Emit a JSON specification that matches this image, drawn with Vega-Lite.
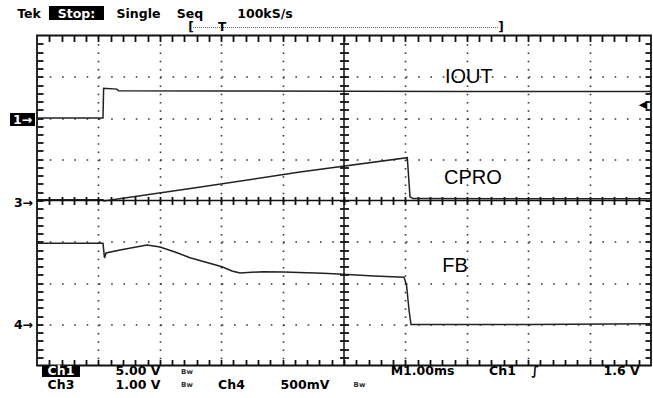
{
  "$schema": "https://vega.github.io/schema/vega-lite/v6.json",
  "width": 614,
  "height": 330,
  "autosize": {"type": "none"},
  "padding": {"left": 37, "top": 35.5, "right": 2, "bottom": 32.5},
  "background": "white",
  "config": {"view": {"stroke": "#111", "strokeWidth": 1.8}},
  "datasets": {
    "traces": [
      {"ch": "IOUT", "x": 0, "y": 6.0},
      {"ch": "IOUT", "x": 1.075, "y": 6.0},
      {"ch": "IOUT", "x": 1.085, "y": 6.72},
      {"ch": "IOUT", "x": 1.3, "y": 6.7},
      {"ch": "IOUT", "x": 1.33, "y": 6.66},
      {"ch": "IOUT", "x": 3, "y": 6.655},
      {"ch": "IOUT", "x": 5, "y": 6.65},
      {"ch": "IOUT", "x": 7, "y": 6.645},
      {"ch": "IOUT", "x": 10, "y": 6.64},
      {"ch": "CPRO", "x": 0, "y": 4.02},
      {"ch": "CPRO", "x": 1.075, "y": 4.02},
      {"ch": "CPRO", "x": 1.09, "y": 3.99},
      {"ch": "CPRO", "x": 2.5, "y": 4.29},
      {"ch": "CPRO", "x": 4.283, "y": 4.69},
      {"ch": "CPRO", "x": 6.031, "y": 5.038},
      {"ch": "CPRO", "x": 6.075, "y": 4.092},
      {"ch": "CPRO", "x": 6.124, "y": 4.048},
      {"ch": "CPRO", "x": 8, "y": 4.04},
      {"ch": "CPRO", "x": 10, "y": 4.04},
      {"ch": "FB", "x": 0, "y": 2.962},
      {"ch": "FB", "x": 1.075, "y": 2.962},
      {"ch": "FB", "x": 1.099, "y": 2.606},
      {"ch": "FB", "x": 1.124, "y": 2.727},
      {"ch": "FB", "x": 1.352, "y": 2.8},
      {"ch": "FB", "x": 1.792, "y": 2.921},
      {"ch": "FB", "x": 2.003, "y": 2.873},
      {"ch": "FB", "x": 2.248, "y": 2.752},
      {"ch": "FB", "x": 2.492, "y": 2.613},
      {"ch": "FB", "x": 3.013, "y": 2.395},
      {"ch": "FB", "x": 3.176, "y": 2.291},
      {"ch": "FB", "x": 3.306, "y": 2.242},
      {"ch": "FB", "x": 3.681, "y": 2.274},
      {"ch": "FB", "x": 4.007, "y": 2.267},
      {"ch": "FB", "x": 4.658, "y": 2.235},
      {"ch": "FB", "x": 4.984, "y": 2.211},
      {"ch": "FB", "x": 5.489, "y": 2.17},
      {"ch": "FB", "x": 5.977, "y": 2.138},
      {"ch": "FB", "x": 6.018, "y": 1.952},
      {"ch": "FB", "x": 6.059, "y": 1.345},
      {"ch": "FB", "x": 6.091, "y": 0.994},
      {"ch": "FB", "x": 6.238, "y": 0.994},
      {"ch": "FB", "x": 8, "y": 0.995},
      {"ch": "FB", "x": 10, "y": 1.01}
    ],
    "labels": [
      {"t": "IOUT", "x": 6.645, "y": 6.99, "g": "sig"},
      {"t": "CPRO", "x": 6.63, "y": 4.545, "g": "sig"},
      {"t": "FB", "x": 6.6, "y": 2.41, "g": "sig"},
      {"t": "Tek", "x": -0.13, "y": 8.424, "g": "stat"},
      {"t": "Stop:", "x": 0.643, "y": 8.424, "g": "inv"},
      {"t": "Single", "x": 1.653, "y": 8.424, "g": "stat"},
      {"t": "Seq", "x": 2.492, "y": 8.424, "g": "stat"},
      {"t": "100kS/s", "x": 3.713, "y": 8.424, "g": "stat"},
      {"t": "Ch1", "x": 0.391, "y": -0.242, "g": "inv"},
      {"t": "5.00 V", "x": 1.645, "y": -0.242, "g": "stat"},
      {"t": "M1.00ms", "x": 6.279, "y": -0.242, "g": "stat"},
      {"t": "Ch1", "x": 7.581, "y": -0.242, "g": "stat"},
      {"t": "∫", "x": 8.111, "y": -0.242, "g": "stat"},
      {"t": "1.6 V", "x": 9.52, "y": -0.242, "g": "stat"},
      {"t": "Ch3", "x": 0.391, "y": -0.57, "g": "stat"},
      {"t": "1.00 V", "x": 1.645, "y": -0.57, "g": "stat"},
      {"t": "Ch4", "x": 3.168, "y": -0.57, "g": "stat"},
      {"t": "500mV", "x": 4.365, "y": -0.57, "g": "stat"},
      {"t": "Bw", "x": 2.443, "y": -0.158, "g": "bw"},
      {"t": "Bw", "x": 2.443, "y": -0.473, "g": "bw"},
      {"t": "Bw", "x": 5.252, "y": -0.473, "g": "bw"},
      {"t": "1→", "x": -0.236, "y": 5.865, "g": "inv"},
      {"t": "3→", "x": -0.22, "y": 3.852, "g": "stat"},
      {"t": "4→", "x": -0.22, "y": 0.895, "g": "stat"},
      {"t": "[", "x": 2.508, "y": 8.194, "g": "bar"},
      {"t": "T", "x": 3.013, "y": 8.194, "g": "bar"},
      {"t": "]", "x": 7.557, "y": 8.194, "g": "bar"},
      {"t": "◀", "x": 9.87, "y": 6.315, "g": "trig"}
    ],
    "boxes": [
      {"x": 0.195, "x2": 1.091, "y": 8.376, "y2": 8.715},
      {"x": 0.081, "x2": 0.7, "y": -0.01, "y2": -0.28},
      {"x": -0.44, "x2": -0.033, "y": 5.806, "y2": 6.121}
    ],
    "bar": [
      {"x": 2.541, "x2": 7.524, "y": 8.194}
    ],
    "cross": [
      {"x": 5, "y": 0, "x2": 5, "y2": 8},
      {"x": 0, "y": 4, "x2": 10, "y2": 4}
    ]
  },
  "layer": [
    {
      "data": {"name": "traces"},
      "mark": {"type": "line", "strokeWidth": 1.5, "color": "#222"},
      "encoding": {
        "x": {
          "field": "x", "type": "quantitative",
          "scale": {"domain": [0, 10], "nice": false, "zero": false},
          "axis": {
            "orient": "bottom", "title": null, "labels": false, "ticks": false, "domain": false,
            "values": [1, 2, 3, 4, 6, 7, 8, 9],
            "grid": true, "gridColor": "#333", "gridWidth": 1.6, "gridDash": [1.6, 6.65]
          }
        },
        "y": {
          "field": "y", "type": "quantitative",
          "scale": {"domain": [0, 8], "nice": false, "zero": false},
          "axis": {
            "orient": "left", "title": null, "labels": false, "ticks": false, "domain": false,
            "values": [1, 2, 3, 5, 6, 7],
            "grid": true, "gridColor": "#333", "gridWidth": 1.6, "gridDash": [1.6, 10.68]
          }
        },
        "detail": {"field": "ch", "type": "nominal"}
      }
    },
    {
      "data": {"name": "boxes"},
      "mark": {"type": "rect", "color": "#000"},
      "encoding": {
        "x": {
          "field": "x", "type": "quantitative",
          "scale": {"domain": [0, 10], "nice": false, "zero": false},
          "axis": {
            "orient": "bottom", "offset": -6, "title": null, "labels": false, "grid": false, "domain": false,
            "values": [0.2,0.4,0.6,0.8,1,1.2,1.4,1.6,1.8,2,2.2,2.4,2.6,2.8,3,3.2,3.4,3.6,3.8,4,4.2,4.4,4.6,4.8,5,5.2,5.4,5.6,5.8,6,6.2,6.4,6.6,6.8,7,7.2,7.4,7.6,7.8,8,8.2,8.4,8.6,8.8,9,9.2,9.4,9.6,9.8],
            "tickSize": 6, "tickColor": "#111", "tickWidth": 1.8
          }
        },
        "x2": {"field": "x2"},
        "y": {
          "field": "y", "type": "quantitative",
          "scale": {"domain": [0, 8], "nice": false, "zero": false},
          "axis": {
            "orient": "left", "offset": -6, "title": null, "labels": false, "grid": false, "domain": false,
            "values": [0.2,0.4,0.6,0.8,1,1.2,1.4,1.6,1.8,2,2.2,2.4,2.6,2.8,3,3.2,3.4,3.6,3.8,4,4.2,4.4,4.6,4.8,5,5.2,5.4,5.6,5.8,6,6.2,6.4,6.6,6.8,7,7.2,7.4,7.6,7.8],
            "tickSize": 6, "tickColor": "#111", "tickWidth": 1.8
          }
        },
        "y2": {"field": "y2"}
      }
    },
    {
      "data": {"name": "cross"},
      "mark": {"type": "rule", "color": "#111", "strokeWidth": 1.5},
      "encoding": {
        "x": {
          "field": "x", "type": "quantitative",
          "scale": {"domain": [0, 10], "nice": false, "zero": false},
          "axis": {
            "orient": "bottom", "offset": -169, "title": null, "labels": false, "grid": false, "domain": false,
            "values": [0.2,0.4,0.6,0.8,1,1.2,1.4,1.6,1.8,2,2.2,2.4,2.6,2.8,3,3.2,3.4,3.6,3.8,4,4.2,4.4,4.6,4.8,5,5.2,5.4,5.6,5.8,6,6.2,6.4,6.6,6.8,7,7.2,7.4,7.6,7.8,8,8.2,8.4,8.6,8.8,9,9.2,9.4,9.6,9.8],
            "tickSize": 8, "tickColor": "#111", "tickWidth": 1.8
          }
        },
        "x2": {"field": "x2"},
        "y": {
          "field": "y", "type": "quantitative",
          "scale": {"domain": [0, 8], "nice": false, "zero": false},
          "axis": {
            "orient": "left", "offset": -311.5, "title": null, "labels": false, "grid": false, "domain": false,
            "values": [0.2,0.4,0.6,0.8,1,1.2,1.4,1.6,1.8,2,2.2,2.4,2.6,2.8,3,3.2,3.4,3.6,3.8,4,4.2,4.4,4.6,4.8,5,5.2,5.4,5.6,5.8,6,6.2,6.4,6.6,6.8,7,7.2,7.4,7.6,7.8],
            "tickSize": 9, "tickColor": "#111", "tickWidth": 1.8
          }
        },
        "y2": {"field": "y2"}
      }
    },
    {
      "encoding": {
        "x": {
          "field": "x", "type": "quantitative",
          "scale": {"domain": [0, 10], "nice": false, "zero": false},
          "axis": {
            "orient": "top", "offset": -6, "title": null, "labels": false, "grid": false, "domain": false,
            "values": [0.2,0.4,0.6,0.8,1,1.2,1.4,1.6,1.8,2,2.2,2.4,2.6,2.8,3,3.2,3.4,3.6,3.8,4,4.2,4.4,4.6,4.8,5,5.2,5.4,5.6,5.8,6,6.2,6.4,6.6,6.8,7,7.2,7.4,7.6,7.8,8,8.2,8.4,8.6,8.8,9,9.2,9.4,9.6,9.8],
            "tickSize": 6, "tickColor": "#111", "tickWidth": 1.8
          }
        },
        "y": {
          "field": "y", "type": "quantitative",
          "scale": {"domain": [0, 8], "nice": false, "zero": false},
          "axis": {
            "orient": "right", "offset": -6, "title": null, "labels": false, "grid": false, "domain": false,
            "values": [0.2,0.4,0.6,0.8,1,1.2,1.4,1.6,1.8,2,2.2,2.4,2.6,2.8,3,3.2,3.4,3.6,3.8,4,4.2,4.4,4.6,4.8,5,5.2,5.4,5.6,5.8,6,6.2,6.4,6.6,6.8,7,7.2,7.4,7.6,7.8],
            "tickSize": 6, "tickColor": "#111", "tickWidth": 1.8
          }
        }
      },
      "layer": [
        {
          "data": {"name": "bar"},
          "mark": {"type": "rule", "color": "#666", "strokeWidth": 1, "strokeDash": [1, 1]},
          "encoding": {"x2": {"field": "x2"}}
        },
        {
          "data": {"name": "labels"},
          "transform": [{"filter": "datum.g === 'sig'"}],
          "mark": {"type": "text", "font": "Liberation Sans Narrow, Liberation Sans, Arial", "fontSize": 20, "align": "left", "baseline": "middle", "color": "#000"},
          "encoding": {"text": {"field": "t"}}
        },
        {
          "data": {"name": "labels"},
          "transform": [{"filter": "datum.g === 'stat'"}],
          "mark": {"type": "text", "font": "DejaVu Sans", "fontWeight": "bold", "fontSize": 12.5, "align": "center", "baseline": "alphabetic", "color": "#000"},
          "encoding": {"text": {"field": "t"}}
        },
        {
          "data": {"name": "labels"},
          "transform": [{"filter": "datum.g === 'inv'"}],
          "mark": {"type": "text", "font": "DejaVu Sans", "fontWeight": "bold", "fontSize": 12.5, "align": "center", "baseline": "alphabetic", "color": "#fff"},
          "encoding": {"text": {"field": "t"}}
        },
        {
          "data": {"name": "labels"},
          "transform": [{"filter": "datum.g === 'bw'"}],
          "mark": {"type": "text", "font": "DejaVu Sans", "fontWeight": "bold", "fontSize": 7, "align": "center", "baseline": "middle", "color": "#333"},
          "encoding": {"text": {"field": "t"}}
        },
        {
          "data": {"name": "labels"},
          "transform": [{"filter": "datum.g === 'bar'"}],
          "mark": {"type": "text", "font": "DejaVu Sans", "fontWeight": "bold", "fontSize": 12, "align": "center", "baseline": "middle", "color": "#000"},
          "encoding": {"text": {"field": "t"}}
        },
        {
          "data": {"name": "labels"},
          "transform": [{"filter": "datum.g === 'trig'"}],
          "mark": {"type": "text", "font": "DejaVu Sans", "fontSize": 11, "align": "center", "baseline": "middle", "color": "#000"},
          "encoding": {"text": {"field": "t"}}
        }
      ]
    }
  ],
  "resolve": {"scale": {"x": "independent", "y": "independent"}}
}
